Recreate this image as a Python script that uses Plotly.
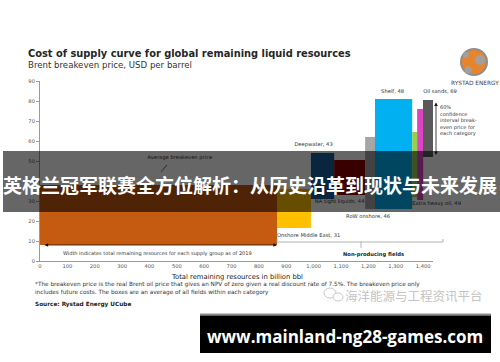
import plotly.graph_objects as go

# ---------------- data ----------------
categories = ["Producing fields", "Onshore Middle East", "Deepwater", "NA tight liquids",
              "RoW onshore", "Shelf", "Extra heavy oil", "Oil sands"]
resources = [866, 124, 85, 113, 36, 136, 18, 22]          # billion bbl (bar widths)
price_low = [8, 16.5, 31, 33, 26, 26, 32, 30.5]            # USD/bbl (box bottom)
price_high = [38, 36, 54, 50.5, 62, 81, 64.5, 76]          # USD/bbl (box top)
avg_price = [None, 31, 43, 44, 46, 48, 49, 69]             # label values
bar_colors = ["#C55A11", "#FFC000", "#1A5C9C", "#8E0000", "#A6A6A6",
              "#00B0F0", "#92D050", "#DD44C4"]
x_tickvals = [0, 100, 200, 300, 400, 500, 600, 700, 800, 900, 1000, 1100, 1200, 1300, 1400]
y_tickvals = [0, 10, 20, 30, 40, 50, 60, 70, 80, 90]

# ---------------- geometry helpers ----------------
W, H = 500, 362
L, R, T, B = 40, 433, 81, 261
X_MAX, Y_MAX = 1436, 90
PXX = (R - L) / X_MAX
PXY = (B - T) / Y_MAX


def px(x):
    return (x - L) / (R - L)


def py(y):
    return (B - y) / (B - T)


lefts = []
acc = 0
for w in resources:
    lefts.append(acc)
    acc += w
centers = [l + w / 2 for l, w in zip(lefts, resources)]

FONT = "DejaVu Sans"
TXT = "#333333"

fig = go.Figure()
fig.add_trace(go.Bar(
    x=centers, y=[h - l for h, l in zip(price_high, price_low)], base=price_low,
    width=resources, marker=dict(color=bar_colors, line=dict(width=0)),
    hoverinfo="skip", showlegend=False))

# label placement (style): edge, text position, dx px, dy px
label_style = {
    "Onshore Middle East": ("low", "left", 0, -8),
    "Deepwater": ("high", "center", -9, 8),
    "NA tight liquids": ("low", "center", -10, -7),
    "RoW onshore": ("low", "center", -2, -8),
    "Shelf": ("high", "center", -1, 7),
    "Extra heavy oil": ("low", "left", 0, -7),
    "Oil sands": ("high", "left", 6, 17),
}
lx, ly, lt, lp = [], [], [], []
for i, c in enumerate(categories):
    if c not in label_style:
        continue
    edge, al, dxp, dyp = label_style[c]
    yv = price_low[i] if edge == "low" else price_high[i]
    xv = lefts[i] if al == "left" else centers[i]
    lx.append(xv + dxp / PXX)
    ly.append(yv + dyp / PXY)
    lt.append(f"{c}, {avg_price[i]}")
    lp.append("middle right" if al == "left" else "middle center")
fig.add_trace(go.Scatter(x=lx, y=ly, text=lt, mode="text", textposition=lp,
                         textfont=dict(family=FONT, size=5.2, color=TXT),
                         cliponaxis=False, hoverinfo="skip", showlegend=False))

# "Average breakeven price" annotation (under banner)
fig.add_trace(go.Scatter(x=[511], y=[51.5], text=["Average breakeven price"], mode="text",
                         textfont=dict(family=FONT, size=5.2, color=TXT),
                         cliponaxis=False, hoverinfo="skip", showlegend=False))
fig.add_trace(go.Scatter(x=[(167 - L) / PXX, (160 - L) / PXX], y=[(B - 165) / PXY, (B - 173) / PXY],
                         mode="lines+markers",
                         line=dict(color="#222", width=0.7),
                         marker=dict(symbol=["circle", "arrow"], size=[0, 4], color="#222",
                                     angleref="previous"),
                         cliponaxis=False, hoverinfo="skip", showlegend=False))

shapes = []
annotations = []


def ann(text, x, y, size, color=TXT, xanchor="left", bold=False, family=FONT, **kw):
    annotations.append(dict(text=f"<b>{text}</b>" if bold else text, x=px(x), y=py(y),
                            xref="paper", yref="paper", xanchor=xanchor, yanchor="middle",
                            showarrow=False, font=dict(family=family, size=size, color=color), **kw))


# title block
ann("Cost of supply curve for global remaining liquid resources", 26, 53, 9.85, "#262626", bold=True)
ann("Brent breakeven price, USD per barrel", 26, 65, 8.6, "#333333")

# logo
shapes.append(dict(type="circle", xref="paper", yref="paper", x0=px(461), x1=px(487), y0=py(75), y1=py(49),
                   fillcolor="#E8842C", line=dict(color="#8E8E8E", width=2)))
for cx, cy, r in [(480, 60, 5), (468, 70, 3.5), (466, 55, 3)]:
    shapes.append(dict(type="circle", xref="paper", yref="paper", x0=px(cx - r), x1=px(cx + r),
                       y0=py(cy + r), y1=py(cy - r), fillcolor="#A0A0A0", line=dict(width=0)))
ann("RYSTAD ENERGY", 475, 83, 5.8, "#444444", xanchor="center")

# legend box for confidence interval
shapes.append(dict(type="rect", xref="paper", yref="paper", x0=px(423), x1=px(433), y0=py(157), y1=py(100),
                   fillcolor="#595959", line=dict(width=0)))
annotations.append(dict(text="", x=px(436), y=py(155), xref="paper", yref="paper", ax=0, ay=-54,
                        axref="pixel", ayref="pixel", showarrow=True, arrowhead=2, arrowside="end+start",
                        arrowsize=0.9, arrowwidth=0.8, arrowcolor="#111", standoff=0, startstandoff=0))
ann("60%<br>confidence<br>interval break-<br>even price for<br>each category", 438, 120, 5.0, TXT,
    align="left")

# width arrow
annotations.append(dict(text="", x=lefts[1], y=price_low[0], ax=11, ay=price_low[0], xref="x", yref="y",
                        axref="x", ayref="y", showarrow=True, arrowhead=2, arrowside="end+start",
                        arrowsize=0.9, arrowwidth=0.8, arrowcolor="#111", standoff=0, startstandoff=0))
ann("Width indicates total remaining resources for each supply group as of 2019", 157, 253, 5.0, TXT,
    xanchor="center")

# non-producing bracket
xb0 = px(L + lefts[1] * PXX)
shapes.append(dict(type="path", xref="paper", yref="paper",
                   path=f"M {xb0},{py(239)} L {xb0},{py(242)} L {px(443)},{py(242)} L {px(443)},{py(239)}",
                   line=dict(color="#A0A0A0", width=0.8)))
shapes.append(dict(type="line", xref="paper", yref="paper", x0=px(361), x1=px(361), y0=py(242), y1=py(248),
                   line=dict(color="#A0A0A0", width=0.8)))
ann("Non-producing fields", 373, 254, 5.2, "#222", xanchor="center", bold=True)

# axis title
ann("Total remaining resources in billion bbl", 237, 277, 6.8, "#222", xanchor="center")

# footnotes
ann("*The breakeven price is the real Brent oil price that gives an NPV of zero given a real discount rate of 7.5%. "
    "The breakeven price only", 33, 284.5, 5.75, "#333")
ann("includes future costs. The boxes are an average of all fields within each category", 33, 292, 5.75, "#333")
ann("Source: Rystad Energy UCube", 33, 304, 5.75, "#222", bold=True)

# watermark
for cx, cy, rx, ry in [(330, 293, 6, 5), (338, 297, 5, 4)]:
    shapes.append(dict(type="circle", xref="paper", yref="paper", x0=px(cx - rx), x1=px(cx + rx),
                       y0=py(cy + ry), y1=py(cy - ry), fillcolor="rgba(255,255,255,0.9)",
                       line=dict(color="#C8C8C8", width=1)))
ann("海洋能源与工程资讯平台", 414, 295, 12.5, "#C4C4C4", xanchor="center", family="Noto Sans CJK SC")

# overlay banner 1
shapes.append(dict(type="rect", xref="paper", yref="paper", x0=px(3), x1=px(500), y0=py(212), y1=py(151),
                   fillcolor="rgba(0,0,0,0.6)", line=dict(width=0), layer="above"))
ann("英格兰冠军联赛全方位解析：从历史沿革到现状与未来发展", 250, 184, 19.0, "#FFFFFF", xanchor="center",
    bold=True, family="Noto Sans CJK SC")

# overlay banner 2
shapes.append(dict(type="rect", xref="paper", yref="paper", x0=px(200), x1=px(491), y0=py(315.5), y1=py(313.5),
                   fillcolor="#8A8A8A", line=dict(width=0), layer="above"))
shapes.append(dict(type="rect", xref="paper", yref="paper", x0=px(200), x1=px(491), y0=py(353), y1=py(315.5),
                   fillcolor="#000000", line=dict(width=0), layer="above"))
ann("www.mainland-ng28-games.com", 345, 336, 17.0, "#FFFFFF", xanchor="center", bold=True, family="Open Sans")

fig.update_layout(
    width=W, height=H,
    margin=dict(l=L, r=W - R, t=T, b=H - B, pad=0),
    paper_bgcolor="white", plot_bgcolor="white",
    showlegend=False,
    shapes=shapes, annotations=annotations,
    xaxis=dict(range=[0, X_MAX], tickvals=x_tickvals, tickformat=",", showgrid=False, zeroline=False,
               showline=True, linecolor="#9A9A9A", linewidth=1, ticks="", automargin=False,
               tickfont=dict(family=FONT, size=5.2, color="#555")),
    yaxis=dict(range=[0, Y_MAX], tickvals=y_tickvals, showgrid=False, zeroline=False,
               showline=True, linecolor="#9A9A9A", linewidth=1, ticks="outside", ticklen=3,
               tickcolor="#9A9A9A", automargin=False,
               tickfont=dict(family=FONT, size=5.2, color="#555")),
)

fig.write_html("out.html", config={"displayModeBar": False},
               post_script="document.body.style.margin='0';document.body.style.overflow='hidden';")
